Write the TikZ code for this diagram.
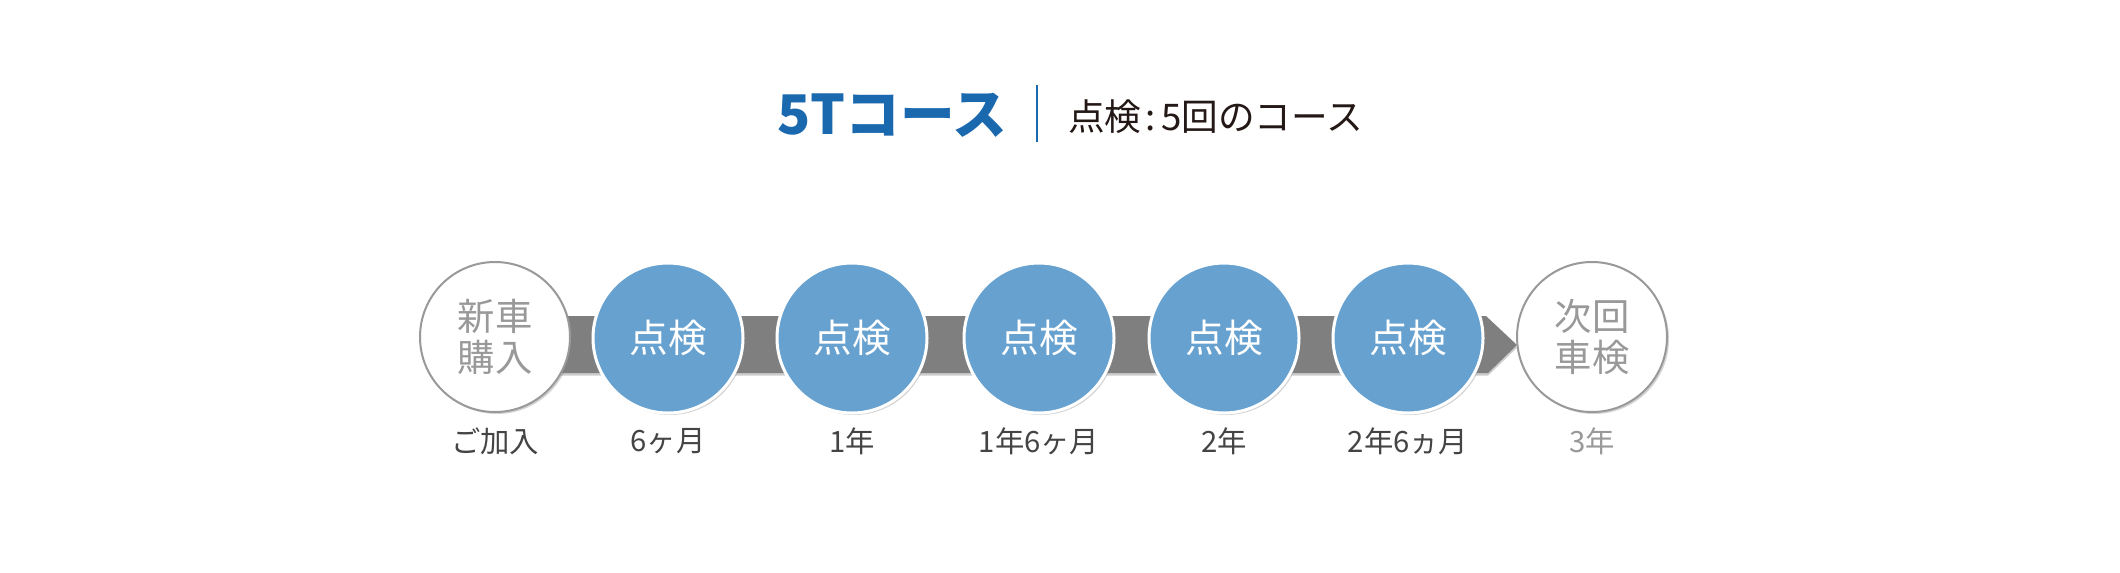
\documentclass[tikz,border=0pt]{standalone}
\usepackage{fontspec}
\setmainfont{Noto Sans CJK JP}
\usepackage{tikz}
\usetikzlibrary{shadows}
\usetikzlibrary{positioning}
\definecolor{stepblue}{HTML}{66A1CF}
\definecolor{titleblue}{HTML}{1A68AD}
\definecolor{bargray}{HTML}{7F7F7F}
\definecolor{softgray}{HTML}{999999}
\definecolor{labelgray}{HTML}{444444}
\definecolor{darktext}{HTML}{231815}
\tikzset{checkcirc/.style = {circle, fill=stepblue, draw=white, line width=2.25pt,
                             minimum size=112.5pt, inner sep=0, text=white,
                             font=\fontsize{29pt}{32pt}\selectfont,
                             drop shadow={shadow xshift=1.5pt, shadow yshift=-1.5pt, opacity=0.35}}}
\tikzset{endcirc/.style = {circle, fill=white, draw=softgray, line width=1.5pt,
                           minimum size=112.5pt, inner sep=0, text=softgray, align=center,
                           font=\fontsize{28pt}{31pt}\selectfont,
                           drop shadow={shadow xshift=1.5pt, shadow yshift=-1.5pt, opacity=0.35}}}
\tikzset{when/.style = {text=labelgray, font=\fontsize{22pt}{24pt}\selectfont}}

\begin{document}
\begin{tikzpicture}[x=0.75pt, y=-0.75pt]
      \useasboundingbox (0, 0) rectangle (2120, 572);

      % title
      \node (title) at (892, 115) [inner sep=0, text=titleblue, font=\fontsize{41pt}{44pt}\selectfont\bfseries] {5Tコース};
      \coordinate (sepTop) at (1037, 85);
      \coordinate (sepBot) at (1037, 142);
      \draw [titleblue, line width=1.5pt] (sepTop) -- (sepBot);
      \node (subtitle) at (1068, 117) [anchor=west, inner sep=0, text=darktext, font=\fontsize{27.5pt}{30pt}\selectfont] {点検\hspace{3pt}:\hspace{4pt}5回のコース};

      % bar with arrow end
      \fill [bargray, drop shadow={shadow xshift=0pt, shadow yshift=-2pt, opacity=0.4}]
            (495, 316) -- (1486, 316) -- (1517, 345) -- (1488, 373) -- (495, 373) -- cycle;

      \node (c0) at (495, 337) [endcirc] {新車\\購入};
      \node (c1) at (668, 338) [checkcirc] {点検};
      \node (c2) at (852, 338) [checkcirc] {点検};
      \node (c3) at (1039, 338) [checkcirc] {点検};
      \node (c4) at (1224, 338) [checkcirc] {点検};
      \node (c5) at (1408, 338) [checkcirc] {点検};
      \node (c6) at (1592, 337) [endcirc] {次回\\車検};

      \node (t0) at (495, 441) [when] {ご加入};
      \node (t1) at (668, 441) [when] {6ヶ月};
      \node (t2) at (852, 441) [when] {1年};
      \node (t3) at (1039, 441) [when] {1年6ヶ月};
      \node (t4) at (1224, 441) [when] {2年};
      \node (t5) at (1408, 441) [when] {2年6ヵ月};
      \node (t6) at (1592, 441) [when, text=softgray] {3年};
\end{tikzpicture}
\end{document}
